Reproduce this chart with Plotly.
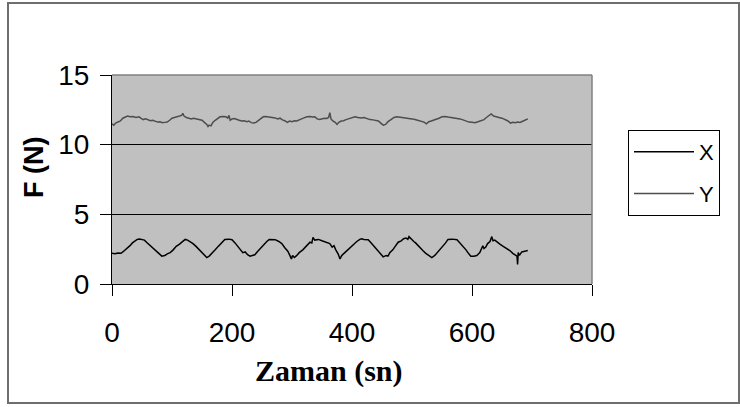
import plotly.graph_objects as go

# ---- data ----
x_time = [0, 5, 10, 15, 18, 22, 26, 30, 34, 38, 42, 46, 50, 54, 58, 63, 68, 73, 78, 83,
          88, 93, 97, 102, 107, 112, 117, 122, 126, 130, 135, 140, 145, 150, 155, 158, 162, 167, 172, 177,
          182, 188, 195, 200, 205, 210, 214, 218, 222, 226, 230, 235, 238, 243, 248, 253, 258, 262, 268, 272,
          278, 283, 288, 293, 297, 299, 301, 304, 308, 312, 318, 324, 330, 333, 335, 338, 344, 350, 357, 363,
          367, 370, 373, 377, 380, 383, 388, 393, 397, 402, 408, 413, 416, 420, 427, 432, 437, 442, 447, 452,
          457, 460, 463, 468, 472, 477, 482, 486, 490, 493, 495, 498, 503, 506, 510, 513, 518, 523, 528, 533,
          538, 542, 547, 552, 556, 560, 567, 575, 580, 585, 590, 594, 598, 603, 608, 613, 616, 618, 620, 623,
          626, 630, 633, 635, 638, 642, 647, 652, 658, 663, 668, 672, 675, 676, 677, 679, 683, 688, 693]
x_force = [2.20, 2.18, 2.22, 2.20, 2.30, 2.45, 2.55, 2.75, 2.95, 3.05, 3.20, 3.22, 3.18, 3.15, 2.98, 2.80, 2.60, 2.42, 2.20, 2.00,
           2.05, 2.18, 2.25, 2.45, 2.70, 2.85, 3.05, 3.20, 3.15, 3.05, 2.90, 2.70, 2.48, 2.25, 2.05, 1.90, 2.00, 2.20, 2.45, 2.70,
           2.95, 3.20, 3.22, 3.18, 2.95, 2.70, 2.45, 2.25, 2.30, 2.10, 2.00, 2.05, 2.10, 2.35, 2.60, 2.85, 3.05, 3.20, 3.22, 3.18,
           3.05, 2.90, 2.60, 2.35, 2.00, 1.80, 2.05, 1.90, 2.05, 2.25, 2.45, 2.75, 3.00, 2.95, 3.35, 3.15, 3.20, 3.10, 3.00, 2.90,
           2.65, 2.75, 2.45, 2.15, 1.80, 2.05, 2.25, 2.45, 2.60, 2.85, 3.05, 3.20, 3.25, 3.20, 3.18, 2.95, 2.70, 2.45, 2.20, 1.95,
           2.05, 2.00, 2.25, 2.45, 2.70, 3.00, 3.10, 3.25, 3.30, 3.20, 3.40, 3.25, 3.05, 2.95, 2.75, 2.60, 2.40, 2.20, 2.05, 1.90,
           2.05, 2.25, 2.45, 2.70, 2.95, 3.20, 3.22, 3.18, 2.95, 2.70, 2.45, 2.20, 2.00, 2.00, 2.05, 2.25, 2.60, 2.75, 2.55, 2.65,
           2.90, 3.05, 3.40, 3.10, 3.15, 3.00, 2.85, 2.70, 2.55, 2.40, 2.20, 2.05, 2.00, 1.40, 2.25, 2.05, 2.30, 2.35, 2.40]

y_time = [0, 3, 6, 10, 14, 18, 22, 26, 30, 35, 40, 45, 48, 52, 56, 60, 64, 68, 72, 76,
          80, 84, 88, 92, 96, 100, 104, 108, 112, 116, 118, 120, 124, 128, 132, 136, 140, 145, 150, 154,
          158, 160, 162, 165, 168, 172, 176, 180, 185, 190, 193, 195, 197, 200, 204, 208, 212, 216, 220, 225,
          228, 232, 236, 240, 244, 248, 252, 256, 260, 264, 268, 272, 276, 280, 284, 288, 292, 296, 300, 304,
          308, 312, 316, 320, 325, 330, 334, 338, 342, 346, 350, 354, 358, 361, 363, 365, 368, 372, 375, 378,
          382, 386, 390, 395, 400, 405, 410, 415, 420, 425, 430, 435, 440, 444, 448, 452, 456, 460, 465, 470,
          475, 480, 485, 490, 495, 500, 505, 510, 515, 520, 524, 528, 532, 536, 540, 545, 550, 555, 560, 565,
          570, 575, 580, 585, 590, 595, 600, 605, 610, 615, 620, 624, 628, 632, 636, 640, 645, 650, 655, 660,
          664, 668, 672, 676, 680, 684, 688, 693]
y_force = [11.50, 11.40, 11.55, 11.60, 11.70, 11.90, 12.00, 12.05, 12.00, 12.02, 11.95, 12.00, 11.90, 11.80, 11.85, 11.78, 11.72, 11.75, 11.68, 11.62,
           11.65, 11.58, 11.60, 11.62, 11.75, 11.90, 11.95, 12.00, 12.05, 12.10, 12.25, 12.05, 11.95, 11.90, 11.85, 11.90, 11.85, 11.82, 11.75, 11.60,
           11.45, 11.30, 11.40, 11.35, 11.60, 11.75, 11.90, 12.00, 12.02, 12.00, 11.90, 12.10, 11.75, 11.85, 11.88, 11.80, 11.75, 11.70, 11.72, 11.65,
           11.70, 11.58, 11.55, 11.60, 11.75, 11.85, 12.00, 12.02, 12.00, 12.00, 11.98, 11.92, 11.85, 11.90, 11.78, 11.72, 11.60, 11.70, 11.65, 11.72,
           11.70, 11.75, 11.85, 11.92, 12.00, 12.02, 11.98, 12.00, 11.85, 11.80, 11.85, 11.90, 11.88, 11.95, 12.30, 11.85, 11.70, 11.60, 11.45, 11.60,
           11.70, 11.72, 11.80, 11.85, 11.95, 12.00, 11.95, 11.92, 11.95, 11.85, 11.80, 11.78, 11.72, 11.70, 11.55, 11.40, 11.45, 11.65, 11.80, 11.95,
           12.00, 11.98, 11.95, 11.90, 11.88, 11.85, 11.80, 11.75, 11.70, 11.62, 11.50, 11.65, 11.70, 11.75, 11.80, 11.90, 12.00, 12.02, 11.98, 11.95,
           11.92, 11.90, 11.85, 11.78, 11.70, 11.62, 11.60, 11.58, 11.65, 11.72, 11.80, 11.95, 12.05, 12.20, 12.05, 11.98, 11.95, 11.90, 11.80, 11.70,
           11.55, 11.60, 11.58, 11.62, 11.60, 11.70, 11.75, 11.85]

x_ticks = [0, 200, 400, 600, 800]
y_ticks = [0, 5, 10, 15]

# ---- figure ----
fig = go.Figure()
fig.add_trace(go.Scatter(x=x_time, y=x_force, name="X", mode="lines",
                         line=dict(color="#000000", width=1.5), legendgroup="X"))
fig.add_trace(go.Scatter(x=y_time, y=y_force, name="Y", mode="lines",
                         line=dict(color="#4d4d4d", width=1.5), legendgroup="Y"))

W, H = 740, 407
L, R, T, B = 112, 592, 75, 284


def px(xp):
    return (xp - L) / (R - L)


def py(yp):
    return (B - yp) / (B - T)


tickfont = dict(family="Liberation Sans, Arial, sans-serif", size=28, color="#000000")

fig.update_layout(
    width=W, height=H,
    margin=dict(l=L, r=W - R, t=T, b=H - B, pad=0),
    paper_bgcolor="#ffffff",
    plot_bgcolor="#c0c0c0",
    showlegend=True,
    legend=dict(
        x=px(628), y=py(130), xanchor="left", yanchor="top",
        bgcolor="#ffffff", bordercolor="#000000", borderwidth=1,
        font=dict(family="Liberation Sans, Arial, sans-serif", size=22, color="#000000"),
        tracegroupgap=10, itemwidth=60,
    ),
    xaxis=dict(
        range=[0, 800], tickvals=x_ticks, ticktext=[str(v) for v in x_ticks],
        ticks="outside", ticklen=11, tickcolor="#000000", tickwidth=1,
        showline=True, linecolor="#000000", linewidth=1,
        showgrid=False, zeroline=False, tickfont=tickfont,
        ticklabelstandoff=12,
    ),
    yaxis=dict(
        range=[0, 15], tickvals=y_ticks, ticktext=[str(v) for v in y_ticks],
        ticks="outside", ticklen=11, tickcolor="#000000", tickwidth=1,
        showline=True, linecolor="#000000", linewidth=1,
        showgrid=True, gridcolor="#000000", gridwidth=1, zeroline=False,
        tickfont=tickfont, ticklabelstandoff=5,
    ),
    shapes=[
        # plot area top/right border (gray)
        dict(type="line", xref="paper", yref="paper", x0=0, x1=1, y0=1, y1=1,
             line=dict(color="#808080", width=1.5), layer="above"),
        dict(type="line", xref="paper", yref="paper", x0=1, x1=1, y0=0, y1=1,
             line=dict(color="#808080", width=1.5), layer="above"),
        # outer chart frame
        dict(type="rect", xref="paper", yref="paper",
             x0=px(8), x1=px(739), y0=py(403), y1=py(3),
             line=dict(color="#6e6e6e", width=2), fillcolor="rgba(0,0,0,0)", layer="above"),
    ],
    annotations=[
        dict(text="<b>Zaman (sn)</b>", xref="paper", yref="paper",
             x=px(329), y=py(371), xanchor="center", yanchor="middle", showarrow=False,
             font=dict(family="Liberation Serif, Times New Roman, serif", size=30, color="#000000")),
        dict(text="<b>F (N)</b>", xref="paper", yref="paper", textangle=-90,
             x=px(34), y=py(168), xanchor="center", yanchor="middle", showarrow=False,
             font=dict(family="Liberation Sans, Arial, sans-serif", size=27, color="#000000")),
    ],
)

fig.write_html("out.html")
